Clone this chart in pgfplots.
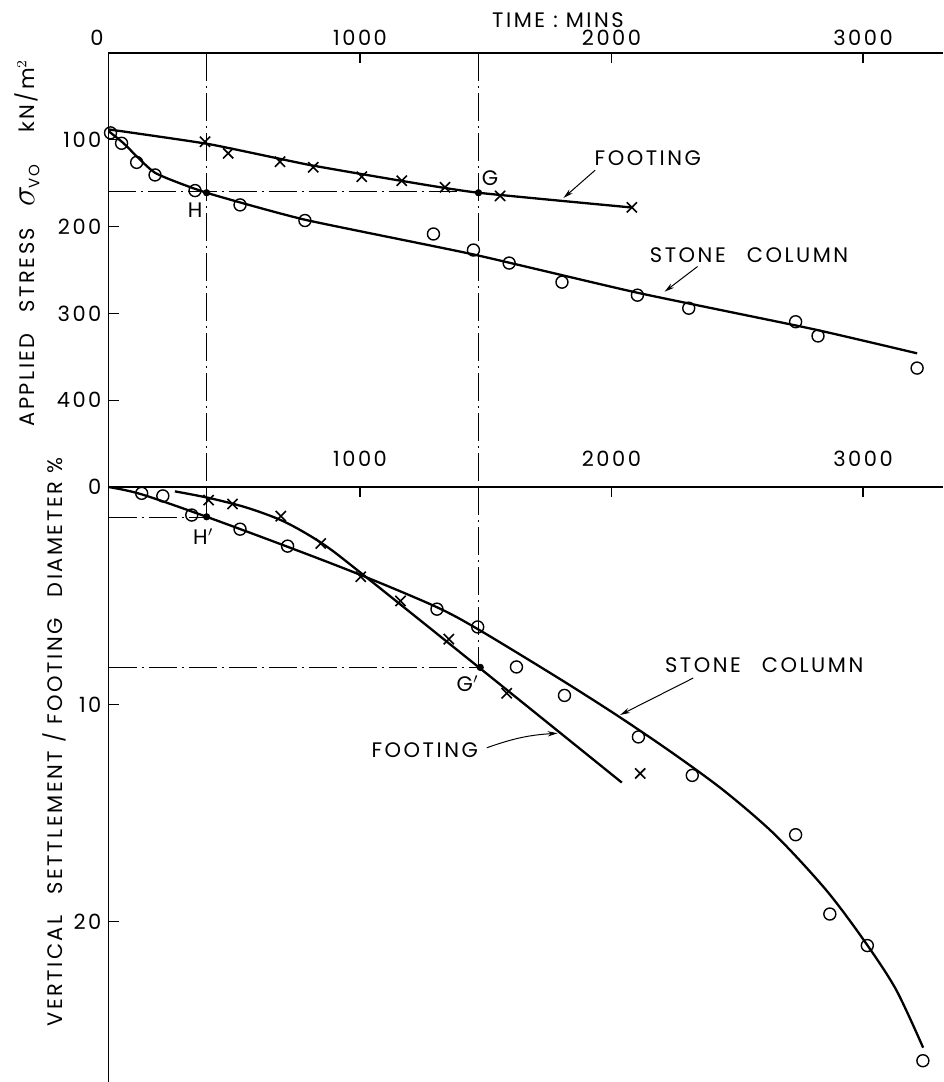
\documentclass[border=0pt]{standalone}
\usepackage{fontspec}
\setmainfont{Poppins}[LetterSpace=12]
\usepackage{pgfplots}
\pgfplotsset{compat=1.18}
\usetikzlibrary{arrows.meta}

\pgfplotstableread{
t s
8 92
52 104
112 126
185 140.5
344 158.5
523 175
781 193
1292 208.5
1451 227
1593 242
1803 264
2103 279
2307 294
2732 309.6
2821 326
3215 363
}\stoneStress

\pgfplotstableread{
t s
384 102.2
476 115.6
682 125.2
814 131.7
1007 142.5
1166 147.1
1338 154.7
1557 164.7
2081 177.8
}\footStress

\pgfplotstableread{
t s
132 0.29
216 0.41
331 1.29
523 1.94
712 2.72
1306 5.62
1468 6.44
1622 8.28
1813 9.59
2107 11.5
2321 13.27
2732 16.0
2868 19.65
3017 21.1
3238 26.4
}\stoneSettle

\pgfplotstableread{
t s
398 0.6
493 0.78
685 1.34
844 2.6
1003 4.13
1161 5.24
1353 7.0
1583 9.49
2114 13.18
}\footSettle

\newcommand\lbl{\fontsize{10.5}{11}\selectfont}
\tikzset{
  dashdot/.style={line width=0.5pt, dash pattern=on 14pt off 2.5pt on 1pt off 2.5pt},
  curve/.style={line width=1.15pt, black},
  arr/.style={line width=0.5pt, -{Stealth[length=5pt,width=2.6pt]}},
}
\pgfplotsset{
  common/.style={
    scale only axis, width=417.25pt, xmin=0, xmax=3318,
    clip=false, tick align=inside, major tick length=5pt,
    axis line style={line width=0.8pt}, every tick/.style={line width=0.6pt, black},
    tick label style={font=\lbl},
    /pgf/number format/assume math mode=true,
    /pgf/number format/1000 sep={},
  },
}

\begin{document}
\begin{tikzpicture}
\useasboundingbox (0,0) rectangle (471.5pt,-541pt);

% ---------- upper axis: applied stress ----------
\begin{axis}[common,
  at={(54.25pt,-26.5pt)}, anchor=north west, height=217pt,
  ymin=0, ymax=500, y dir=reverse,
  axis x line*=top, axis y line*=left,
  xtick={0,1000,2000,3000},
  xticklabels={\llap{0\hspace{2.5pt}},1000,2000,3000},
  ytick={100,200,300,400},
]
% construction lines
\addplot[dashdot] coordinates {(390,0) (390,500)};
\addplot[dashdot] coordinates {(1471,0) (1471,500)};
\addplot[dashdot] coordinates {(0,160) (1471,160)};
% fitted lines
\addplot[curve, smooth, tension=0.3] coordinates {(0,88) (400,105) (800,129) (1200,149) (1471,161) (2081,178)};
\addplot[curve, smooth, tension=0.3] coordinates {(0,90) (60,104) (185,138) (390,161) (780,192) (1450,232) (2100,276) (2800,318) (3215,346)};
% data
\addplot[only marks, mark=o, mark size=3pt, mark options={line width=0.7pt}] table[x=t,y=s] {\stoneStress};
\addplot[only marks, mark=x, mark size=3.6pt, mark options={line width=0.8pt}] table[x=t,y=s] {\footStress};
\addplot[only marks, mark=*, mark size=1.6pt] coordinates {(390,161) (1471,161)};
% annotations
\node[font=\lbl] at (axis cs:344,181) {H};
\node[font=\lbl] at (axis cs:1517,144) {G};
\node[anchor=west, font=\lbl] at (axis cs:1905,121) {FOOTING};
\draw[arr] (axis cs:1935,135) -- (axis cs:1809,167);
\node[font=\lbl] at (axis cs:2547,233) {STONE\quad COLUMN};
\draw[arr] (axis cs:2342,246) -- (axis cs:2211,275);
\end{axis}

% ---------- lower axis: settlement ----------
\begin{axis}[common,
  at={(54.25pt,-243.5pt)}, anchor=north west, height=297.5pt,
  ymin=0, ymax=27.38, y dir=reverse,
  axis x line*=top, axis y line*=left,
  xtick={1000,2000,3000},
  xticklabel style={yshift=6.5pt},
  ytick={0,10,20},
]
\addplot[dashdot] coordinates {(390,0) (390,1.37)};
\addplot[dashdot] coordinates {(1471,0) (1471,8.3)};
\addplot[dashdot] coordinates {(0,1.4) (390,1.4)};
\addplot[dashdot] coordinates {(0,8.3) (1471,8.3)};
% fitted curves
\addplot[curve, smooth] coordinates {(0,0) (130,0.33) (390,1.37) (712,2.75) (1003,4.05) (1300,5.5) (1470,6.55) (1797,8.85) (2034,10.6) (2250,12.3) (2450,14.0) (2650,16.0) (2850,18.5) (3000,20.8) (3130,23.1) (3239,25.8)};
\addplot[curve, smooth] coordinates {(264,0.2) (398,0.5) (550,0.95) (700,1.6) (850,2.6) (1003,3.95) (1478,8.35) (2041,13.6)};
% data
\addplot[only marks, mark=o, mark size=3pt, mark options={line width=0.7pt}] table[x=t,y=s] {\stoneSettle};
\addplot[only marks, mark=x, mark size=3.6pt, mark options={line width=0.8pt}] table[x=t,y=s] {\footSettle};
\addplot[only marks, mark=*, mark size=1.6pt] coordinates {(390,1.37) (1478,8.3)};
% annotations
\node[font=\lbl] at (axis cs:377,2.29) {H$'$};
\node[font=\lbl] at (axis cs:1428,9.03) {G$'$};
\node[font=\lbl] at (axis cs:2607,8.19) {STONE\quad COLUMN};
\draw[arr] (axis cs:2325,8.79) -- (axis cs:2034,10.49);
\node[anchor=east, font=\lbl] at (axis cs:1497,12.1) {FOOTING};
\draw[arr] (axis cs:1504,12.0) to[bend left=8] (axis cs:1786,11.33);
\end{axis}

% ---------- titles ----------
\node[font=\lbl] at (279pt,-10.3pt) {TIME\ :\ MINS};
\node[rotate=90, anchor=west, inner sep=0pt, font=\lbl] at (13.5pt,-213.5pt) {APPLIED\quad STRESS\quad {\fontsize{17}{17}\selectfont$\sigma$}\kern-1pt\raisebox{-2.5pt}{\fontsize{7.5}{8}\selectfont VO}\quad\enspace kN/m$^{2}$};
\node[rotate=90, anchor=west, inner sep=0pt, font=\lbl] at (27pt,-513.5pt) {VERTICAL\quad SETTLEMENT\ /\ FOOTING\quad DIAMETER\ \%};
\end{tikzpicture}
\end{document}
